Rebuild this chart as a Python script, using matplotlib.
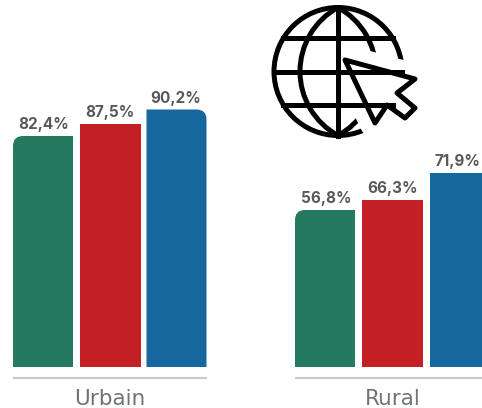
import matplotlib
matplotlib.use('Agg')
import matplotlib.pyplot as plt
import numpy as np
from matplotlib.patches import PathPatch, Arc, Circle, Polygon
from matplotlib.path import Path

plt.rcParams['font.family'] = ['Inter', 'DejaVu Sans']

# Labels printed on the chart, bar heights as drawn (the picture is not to scale)
groups = ['Urbain', 'Rural']
value_labels = ['82,4%', '87,5%', '90,2%', '56,8%', '66,3%', '71,9%']
bar_heights = [231, 243, 257.5, 157, 167.5, 194]
bar_lefts = [13, 80, 146.5, 295, 362, 430]
bar_widths = [60, 61, 60, 60, 61, 60]
bar_colors = ['#24795f', '#c32026', '#17679f'] * 2
rounded = ['left', None, 'right', 'left', None, None]
label_centers = [44, 109.5, 176, 326, 393, 457]
group_centers = [109.5, 392.5]
rule_spans = [(13, 207), (295, 482)]

fig = plt.figure(figsize=(4.82, 4.08), dpi=100)
ax = fig.add_axes([0, 0, 1, 1])
ax.set_xlim(0, 482)
ax.set_ylim(-41, 367)
ax.axis('off')


def corner_bar(x, w, h, side, r=10):
    # bar with one rounded top corner
    if side == 'left':
        verts = [(x, 0), (x, h - r), (x, h), (x + r, h), (x + w, h), (x + w, 0), (x, 0)]
        codes = [Path.MOVETO, Path.LINETO, Path.CURVE3, Path.CURVE3, Path.LINETO, Path.LINETO, Path.CLOSEPOLY]
    else:
        verts = [(x, 0), (x, h), (x + w - r, h), (x + w, h), (x + w, h - r), (x + w, 0), (x, 0)]
        codes = [Path.MOVETO, Path.LINETO, Path.LINETO, Path.CURVE3, Path.CURVE3, Path.LINETO, Path.CLOSEPOLY]
    return Path(verts, codes)


for x, w, h, c, side, lab, lx in zip(bar_lefts, bar_widths, bar_heights, bar_colors,
                                     rounded, value_labels, label_centers):
    if side:
        ax.add_patch(PathPatch(corner_bar(x, w, h, side), facecolor=c, edgecolor='none'))
    else:
        ax.bar(x, h, width=w, align='edge', color=c)
    ax.text(lx, h + 4, lab, ha='center', va='bottom', fontsize=11,
            fontweight='bold', color='#595959')

for (x0, x1) in rule_spans:
    ax.plot([x0, x1], [-11, -11], color='#c9cbcb', lw=1.5, solid_capstyle='butt')

for name, xc in zip(groups, group_centers):
    ax.text(xc, -32, name, ha='center', va='center', fontsize=15.5,
            family='DejaVu Sans', color='#6f7478')

# Globe and cursor icon, in image pixels
icon = fig.add_axes([0, 0, 1, 1])
icon.set_xlim(0, 482)
icon.set_ylim(408, 0)
icon.axis('off')
icon.patch.set_alpha(0)

cx, cy, r = 338, 71.5, 64
lw = 3.6
icon.add_patch(Circle((cx, cy), r, fill=False, edgecolor='black', lw=lw))
# meridians are pointed arcs through both poles
bulge = 38
arc_r = (r ** 2 + bulge ** 2) / (2 * bulge)
half_ang = np.degrees(np.arcsin(r / arc_r))
icon.add_patch(Arc((cx + arc_r - bulge, cy), 2 * arc_r, 2 * arc_r, theta1=180 - half_ang,
                   theta2=180 + half_ang, edgecolor='black', lw=lw))
icon.add_patch(Arc((cx - arc_r + bulge, cy), 2 * arc_r, 2 * arc_r, theta1=-half_ang,
                   theta2=half_ang, edgecolor='black', lw=lw))
icon.plot([cx, cx], [cy - r, cy + r], color='black', lw=lw)
for yy, half in [(38, 55), (72, 64), (105, 55)]:
    icon.plot([cx - half, cx + half], [yy, yy], color='black', lw=lw)

cursor = [(345, 60), (415, 79), (397, 93), (415, 108), (405, 118), (387, 105), (375, 123)]
icon.add_patch(Polygon(cursor, closed=True, facecolor='white', edgecolor='white', lw=22, joinstyle='round'))
icon.add_patch(Polygon(cursor, closed=True, facecolor='white', edgecolor='black', lw=lw, joinstyle='round'))

fig.savefig('out.png', dpi=100)
